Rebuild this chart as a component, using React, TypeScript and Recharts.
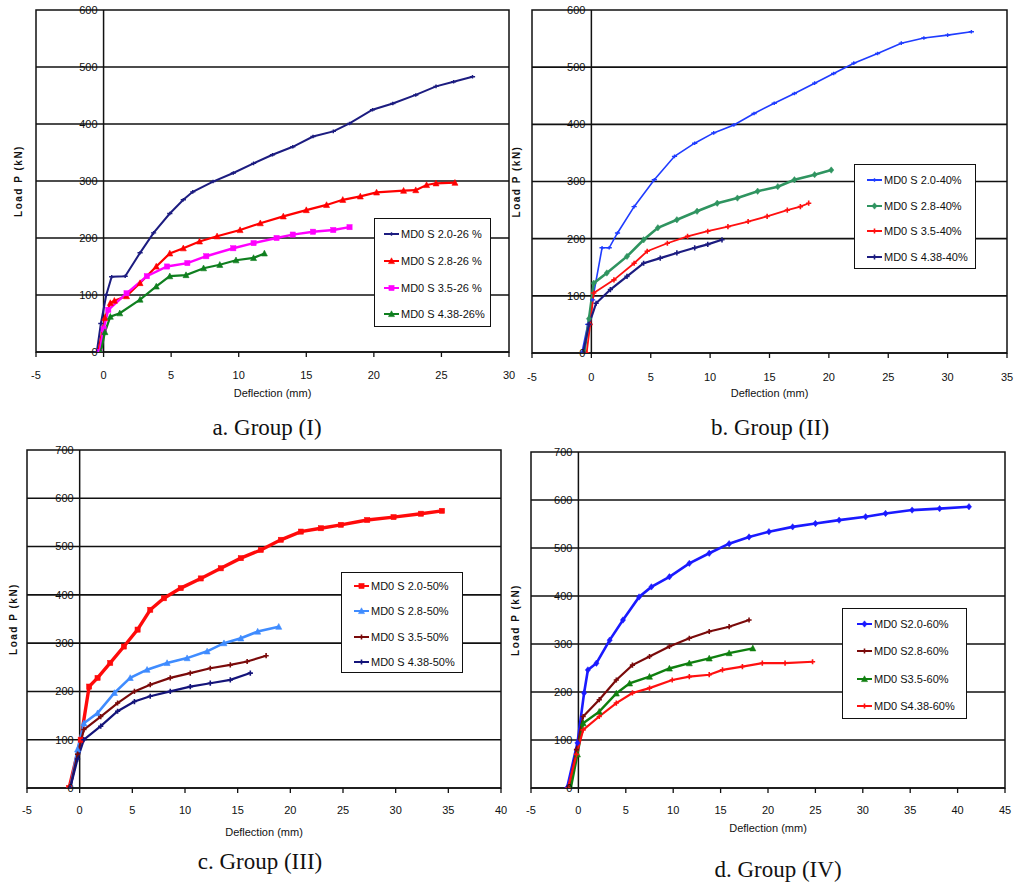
import React from 'react';
import {
  LineChart, Line, XAxis, YAxis, ReferenceLine,
  ReferenceArea, ReferenceDot, Legend,
} from 'recharts';

type Pt = [number, number];

// ---------- data (deflection mm, load kN) ----------
const a1: Pt[] = [[-0.5,0],[-0.2,50],[0.2,100],[0.6,132],[1.6,133],[2.7,174],[3.7,209],[4.9,243],[5.9,267],[6.6,281],[8.1,299],[9.6,314],[11.1,331],[12.5,346],[14.0,360],[15.5,378],[17.0,387],[18.2,401],[19.9,425],[21.4,436],[23.1,451],[24.6,466],[25.9,474],[27.3,483]];
const a2: Pt[] = [[-0.4,0],[0.1,60],[0.5,86],[0.8,90],[1.7,98],[2.7,121],[3.9,150],[4.9,173],[5.9,182],[7.1,194],[8.4,203],[10.1,214],[11.6,226],[13.3,238],[15.0,249],[16.5,258],[17.7,267],[19.0,273],[20.2,280],[22.2,283],[23.1,284],[23.9,293],[24.6,296],[26.0,297]];
const a3: Pt[] = [[-0.3,0],[0.0,40],[0.35,74],[1.7,103],[3.2,133],[4.7,150],[6.2,156],[7.6,168],[9.6,182],[11.1,191],[12.8,200],[14.0,206],[15.5,211],[17.0,214],[18.2,219]];
const a4: Pt[] = [[-0.2,0],[0.1,35],[0.5,62],[1.2,68],[2.7,92],[3.9,115],[4.9,133],[6.1,135],[7.4,147],[8.6,153],[9.8,161],[11.1,165],[11.9,173]];

const b1: Pt[] = [[-0.8,0],[-0.3,50],[0.1,93],[0.9,184],[1.5,184],[2.2,210],[3.6,256],[5.3,303],[7.0,344],[8.7,367],[10.3,385],[12.0,399],[13.7,419],[15.4,437],[17.1,454],[18.8,472],[20.4,489],[22.1,507],[24.1,524],[26.1,542],[28.0,551],[30.0,556],[32.0,562]];
const b2: Pt[] = [[-0.6,0],[-0.2,60],[0.2,122],[1.3,140],[3.0,169],[4.4,198],[5.6,219],[7.2,233],[8.9,248],[10.6,262],[12.3,271],[14.0,283],[15.7,291],[17.1,303],[18.8,312],[20.2,320]];
const b3: Pt[] = [[-0.4,0],[-0.1,50],[0.2,105],[1.9,128],[3.6,157],[4.7,178],[6.4,192],[8.1,204],[9.8,213],[11.5,221],[13.2,230],[14.8,239],[16.5,250],[17.6,256],[18.3,262]];
const b4: Pt[] = [[-0.7,0],[-0.2,50],[0.4,87],[1.6,111],[3.0,134],[4.4,157],[5.8,166],[7.2,175],[8.7,184],[9.8,190],[11.0,198]];

const c1: Pt[] = [[-1.0,0],[0.1,100],[0.9,210],[1.7,228],[2.9,259],[4.2,293],[5.5,328],[6.7,369],[8.0,393],[9.6,414],[11.5,434],[13.4,455],[15.3,476],[17.2,493],[19.1,514],[21.0,531],[22.9,538],[24.8,545],[27.3,555],[29.8,561],[32.4,568],[34.4,574]];
const c2: Pt[] = [[-0.9,0],[-0.2,80],[0.4,134],[1.7,155],[3.3,197],[4.8,228],[6.4,245],[8.3,259],[10.2,269],[12.1,283],[13.7,300],[15.3,310],[16.9,324],[18.9,334]];
const c3: Pt[] = [[-0.9,0],[-0.2,70],[0.4,121],[2.0,148],[3.6,176],[5.2,200],[6.7,214],[8.6,228],[10.5,238],[12.4,248],[14.3,255],[15.9,262],[17.7,274]];
const c4: Pt[] = [[-0.9,0],[-0.2,60],[0.4,100],[2.0,128],[3.6,159],[5.2,179],[6.7,190],[8.6,200],[10.5,210],[12.4,217],[14.3,224],[16.2,238]];

const d1: Pt[] = [[-1.2,0],[-0.1,94],[0.6,198],[1.0,246],[1.9,260],[3.3,308],[4.7,350],[6.4,398],[7.7,419],[9.6,440],[11.7,468],[13.8,489],[15.9,509],[18.0,523],[20.1,534],[22.6,544],[25.0,551],[27.5,558],[30.3,565],[32.4,572],[35.2,579],[38.1,582],[41.2,586]];
const d2: Pt[] = [[-1.0,0],[-0.2,80],[0.5,149],[2.2,184],[4.0,225],[5.7,256],[7.5,274],[9.6,295],[11.7,312],[13.8,326],[15.9,336],[18.0,350]];
const d3: Pt[] = [[-0.8,0],[-0.1,70],[0.5,135],[2.2,159],[4.0,197],[5.4,218],[7.5,232],[9.6,249],[11.7,260],[13.8,270],[15.9,281],[18.4,291]];
const d4: Pt[] = [[-1.1,0],[-0.2,70],[0.5,121],[2.2,149],[4.0,177],[5.7,198],[7.5,208],[9.9,225],[11.7,232],[13.8,236],[15.2,246],[17.3,253],[19.4,260],[21.8,260],[24.7,263]];

const namesA = ['MD0 S 2.0-26 %', 'MD0 S 2.8-26 %', 'MD0 S 3.5-26 %', 'MD0 S 4.38-26%'];
const namesB = ['MD0 S 2.0-40%', 'MD0 S 2.8-40%', 'MD0 S 3.5-40%', 'MD0 S 4.38-40%'];
const namesC = ['MD0 S 2.0-50%', 'MD0 S 2.8-50%', 'MD0 S 3.5-50%', 'MD0 S 4.38-50%'];
const namesD = ['MD0 S2.0-60%', 'MD0 S2.8-60%', 'MD0 S3.5-60%', 'MD0 S4.38-60%'];

const xTicksA = [-5, 0, 5, 10, 15, 20, 25, 30];
const xTicksB = [-5, 0, 5, 10, 15, 20, 25, 30, 35];
const xTicksC = [-5, 0, 5, 10, 15, 20, 25, 30, 35, 40];
const xTicksD = [-5, 0, 5, 10, 15, 20, 25, 30, 35, 40, 45];
const yTicks600 = [0, 100, 200, 300, 400, 500, 600];
const yTicks700 = [0, 100, 200, 300, 400, 500, 600, 700];

const captions = ['a. Group (I)', 'b. Group (II)', 'c. Group (III)', 'd. Group (IV)'];
const xTitle = 'Deflection (mm)';
const yTitle = 'Load  P (kN)';

// ---------- styles ----------
const SANS = '"Liberation Sans", Arial, sans-serif';
const SERIF = '"Liberation Serif", "Times New Roman", serif';

type MarkerKind = 'tick' | 'tri' | 'sq' | 'dia' | 'plus';

function markerShape(kind: MarkerKind, cx: number, cy: number, color: string, key?: string) {
  const s = 2.6;
  switch (kind) {
    case 'tri':
      return <path key={key} d={`M${cx},${cy - s - 0.6}L${cx + s + 0.4},${cy + s}L${cx - s - 0.4},${cy + s}Z`} fill={color} stroke={color} strokeWidth={0.6} />;
    case 'sq':
      return <rect key={key} x={cx - s} y={cy - s} width={2 * s} height={2 * s} fill={color} stroke={color} strokeWidth={0.5} />;
    case 'dia':
      return <path key={key} d={`M${cx},${cy - s - 0.6}L${cx + s},${cy}L${cx},${cy + s + 0.6}L${cx - s},${cy}Z`} fill={color} stroke={color} strokeWidth={0.5} />;
    case 'plus':
      return <path key={key} d={`M${cx - s},${cy}H${cx + s}M${cx},${cy - s}V${cy + s}`} stroke={color} strokeWidth={1.6} fill="none" />;
    case 'tick':
    default:
      return <path key={key} d={`M${cx - s},${cy}H${cx + s}M${cx},${cy - 1.8}V${cy + 1.8}`} stroke={color} strokeWidth={1.4} fill="none" />;
  }
}

type Series = { name: string; color: string; marker: MarkerKind; pts: Pt[]; width: number };
type LegendPos = { left: number; top: number; width: number; height: number; padTop: number; rowH: number; iconLeft: number };
type PanelCfg = {
  left: number; top: number; width: number; height: number;
  margin: { top: number; right: number; bottom: number; left: number };
  yAxisWidth: number; xAxisHeight: number; tickMargin: number;
  xDomain: [number, number]; xTicks: number[];
  yDomain: [number, number]; yTicks: number[];
  series: Series[]; legend: LegendPos;
  caption: string; capX: number; capY: number;
};

const panels: PanelCfg[] = [
  {
    left: 0, top: 0, width: 520, height: 440,
    margin: { top: 10, right: 11, bottom: 43, left: 0 },
    yAxisWidth: 36, xAxisHeight: 45, tickMargin: 14,
    xDomain: [-5, 30], xTicks: xTicksA, yDomain: [0, 600], yTicks: yTicks600,
    series: [
      { name: namesA[0], color: '#1c1c80', marker: 'tick', pts: a1, width: 2 },
      { name: namesA[1], color: '#ff0000', marker: 'tri', pts: a2, width: 2.2 },
      { name: namesA[2], color: '#ff00ff', marker: 'sq', pts: a3, width: 2.4 },
      { name: namesA[3], color: '#0f7f1f', marker: 'tri', pts: a4, width: 2.2 },
    ],
    legend: { left: 374, top: 218, width: 117, height: 109, padTop: 2, rowH: 26.7, iconLeft: 9 },
    caption: captions[0], capX: 267, capY: 428,
  },
  {
    left: 500, top: 0, width: 514, height: 440,
    margin: { top: 10, right: 7, bottom: 43, left: 0 },
    yAxisWidth: 32, xAxisHeight: 44, tickMargin: 15,
    xDomain: [-5, 35], xTicks: xTicksB, yDomain: [0, 600], yTicks: yTicks600,
    series: [
      { name: namesB[0], color: '#1f3cff', marker: 'tick', pts: b1, width: 1.6 },
      { name: namesB[1], color: '#2f9460', marker: 'dia', pts: b2, width: 2.6 },
      { name: namesB[2], color: '#ff1010', marker: 'plus', pts: b3, width: 1.8 },
      { name: namesB[3], color: '#1c1c80', marker: 'plus', pts: b4, width: 2.2 },
    ],
    legend: { left: 354, top: 164, width: 122, height: 105, padTop: 2, rowH: 25.7, iconLeft: 12 },
    caption: captions[1], capX: 770, capY: 428,
  },
  {
    left: 0, top: 430, width: 510, height: 440,
    margin: { top: 20, right: 9, bottom: 34, left: 0 },
    yAxisWidth: 27, xAxisHeight: 48, tickMargin: 13,
    xDomain: [-5, 40], xTicks: xTicksC, yDomain: [0, 700], yTicks: yTicks700,
    series: [
      { name: namesC[0], color: '#ff0a0a', marker: 'sq', pts: c1, width: 3.4 },
      { name: namesC[1], color: '#3f8cff', marker: 'tri', pts: c2, width: 2.6 },
      { name: namesC[2], color: '#7a0a0a', marker: 'plus', pts: c3, width: 2.2 },
      { name: namesC[3], color: '#14147a', marker: 'plus', pts: c4, width: 2.2 },
    ],
    legend: { left: 341, top: 142, width: 122, height: 101, padTop: 0.5, rowH: 25.3, iconLeft: 12 },
    caption: captions[2], capX: 260, capY: 862,
  },
  {
    left: 500, top: 430, width: 514, height: 440,
    margin: { top: 22, right: 9, bottom: 38, left: 0 },
    yAxisWidth: 31, xAxisHeight: 44, tickMargin: 13,
    xDomain: [-5, 45], xTicks: xTicksD, yDomain: [0, 700], yTicks: yTicks700,
    series: [
      { name: namesD[0], color: '#1a1aff', marker: 'dia', pts: d1, width: 2.6 },
      { name: namesD[1], color: '#7a0a0a', marker: 'plus', pts: d2, width: 2.2 },
      { name: namesD[2], color: '#0f7f0f', marker: 'tri', pts: d3, width: 2.4 },
      { name: namesD[3], color: '#ff1010', marker: 'plus', pts: d4, width: 2.2 },
    ],
    legend: { left: 342, top: 178, width: 125, height: 111, padTop: 1.5, rowH: 27.3, iconLeft: 14 },
    caption: captions[3], capX: 778, capY: 870,
  },
];

function LegendBox({ cfg }: { cfg: PanelCfg }) {
  const lg = cfg.legend;
  return (
    <div style={{
      width: lg.width, height: lg.height, boxSizing: 'border-box',
      border: '1.5px solid #111', background: '#fff', paddingTop: lg.padTop,
      fontFamily: SANS, fontSize: 11, color: '#111',
    }}>
      {cfg.series.map((s) => (
        <div key={s.name} style={{ height: lg.rowH, display: 'flex', alignItems: 'center', whiteSpace: 'nowrap' }}>
          <svg width={lg.iconLeft + 17} height={10} style={{ flex: 'none' }}>
            <line x1={lg.iconLeft} y1={5} x2={lg.iconLeft + 15} y2={5} stroke={s.color} strokeWidth={2} />
            {markerShape(s.marker, lg.iconLeft + 7.5, 5, s.color)}
          </svg>
          <span>{s.name}</span>
        </div>
      ))}
    </div>
  );
}

function Panel({ cfg }: { cfg: PanelCfg }) {
  const [x0, x1] = cfg.xDomain;
  const [y0, y1] = cfg.yDomain;
  return (
    <div style={{ position: 'absolute', left: cfg.left, top: cfg.top, width: cfg.width, height: cfg.height }}>
      <LineChart width={cfg.width} height={cfg.height} margin={cfg.margin}>
        <XAxis
          type="number" dataKey="x" domain={cfg.xDomain} ticks={cfg.xTicks}
          allowDataOverflow interval={0} height={cfg.xAxisHeight}
          axisLine={{ stroke: '#111', strokeWidth: 1.5 }}
          tickLine={{ stroke: '#111', strokeWidth: 1.3 }} tickSize={5} tickMargin={cfg.tickMargin}
          tick={{ fontSize: 11, fill: '#111', fontFamily: SANS }}
          label={{ value: xTitle, position: 'insideBottom', offset: 0, fontSize: 11, fill: '#111', fontFamily: SANS }}
        />
        <YAxis
          type="number" domain={cfg.yDomain} ticks={cfg.yTicks} width={cfg.yAxisWidth}
          allowDataOverflow tick={false} axisLine={false} tickLine={false}
          label={{ value: yTitle, angle: -90, position: 'center', fontSize: 10, fontWeight: 'bold', fill: '#111', fontFamily: SANS, letterSpacing: 1.5 }}
        />
        {cfg.yTicks.filter((v) => v > y0 && v < y1).map((v) => (
          <ReferenceLine key={`gl-${v}`} y={v} stroke="#111" strokeWidth={1.6} />
        ))}
        <ReferenceArea x1={x0} x2={x1} y1={y0} y2={y1} fill="none" stroke="#111" strokeWidth={1.5} fillOpacity={0} />
        <ReferenceLine x={0} stroke="#111" strokeWidth={1.5} />
        {cfg.yTicks.map((v) => (
          <ReferenceDot
            key={`yt-${v}`} x={0} y={v} r={0} fill="none" stroke="none"
            label={{ value: String(v), position: 'left', offset: 6, fontSize: 11, fill: '#111', fontFamily: SANS }}
          />
        ))}
        {cfg.series.map((s) => (
          <Line
            key={s.name} name={s.name} data={s.pts.map(([x, y]) => ({ x, y }))} dataKey="y"
            type="linear" stroke={s.color} strokeWidth={s.width} isAnimationActive={false}
            dot={(p: any) => markerShape(s.marker, p.cx, p.cy, s.color, `${s.name}-${p.index}`)}
            activeDot={false}
          />
        ))}
        <Legend
          layout="vertical" align="center" verticalAlign="middle"
          wrapperStyle={{ left: cfg.legend.left, top: cfg.legend.top, width: cfg.legend.width, height: cfg.legend.height }}
          content={() => <LegendBox cfg={cfg} />}
        />
      </LineChart>
      <div style={{
        position: 'absolute', left: cfg.capX - cfg.left - 150, top: cfg.capY - cfg.top - 14,
        width: 300, height: 28, lineHeight: '28px', textAlign: 'center',
        fontFamily: SERIF, fontSize: 23, color: '#111',
      }}>{cfg.caption}</div>
    </div>
  );
}

export default function App() {
  return (
    <div style={{ position: 'absolute', left: 0, top: 0, width: 1014, height: 886, background: '#fff', overflow: 'hidden' }}>
      {panels.map((p, i) => <Panel key={i} cfg={p} />)}
    </div>
  );
}
